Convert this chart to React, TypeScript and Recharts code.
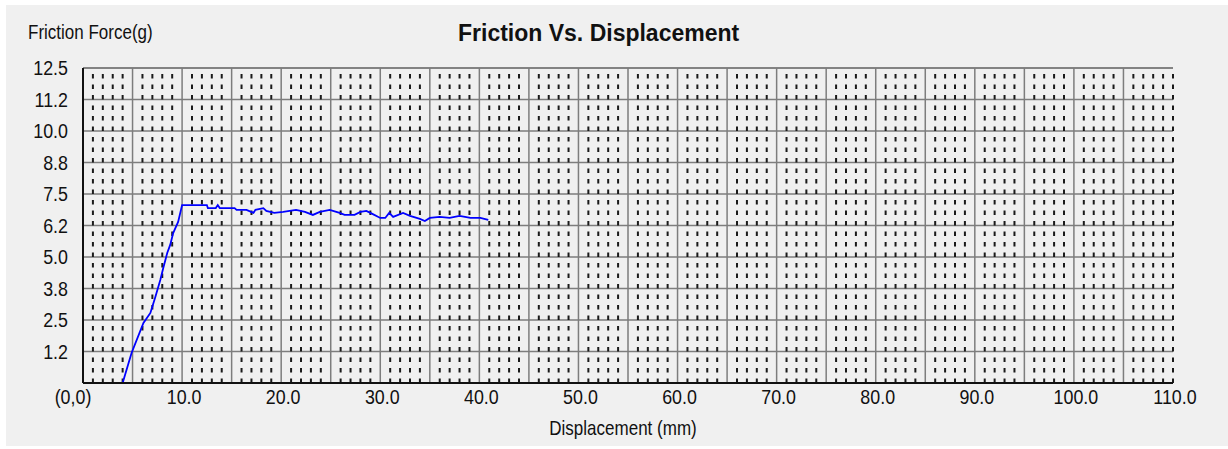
import { LineChart, Line, XAxis, YAxis, CartesianGrid, ReferenceLine } from 'recharts';

// values (mm, g)
const displacement = [
  4.0, 4.9, 6.1, 6.8, 7.3, 7.8, 8.1, 8.5, 8.8, 9.1, 9.6, 10.0, 12.5, 12.6, 13.4, 13.6, 13.8,
  15.3, 15.5, 16.5, 17.2, 17.4, 18.2, 18.5, 19.3, 20.2, 21.5, 22.4, 23.2, 23.9, 24.9, 25.9,
  26.4, 27.4, 28.0, 28.6, 29.2, 30.0, 30.5, 30.9, 31.3, 32.3, 33.0, 34.0, 34.5, 35.0, 36.0,
  37.0, 38.0, 39.1, 40.1, 40.9,
];
const frictionForce = [
  0, 1.19, 2.38, 2.78, 3.41, 4.09, 4.56, 5.16, 5.48, 5.95, 6.39, 7.06, 7.06, 6.94, 6.94, 7.06, 6.94,
  6.94, 6.87, 6.87, 6.75, 6.87, 6.94, 6.83, 6.75, 6.79, 6.87, 6.79, 6.67, 6.79, 6.87, 6.75,
  6.67, 6.67, 6.79, 6.83, 6.71, 6.55, 6.55, 6.75, 6.59, 6.75, 6.63, 6.51, 6.43, 6.55, 6.59,
  6.55, 6.63, 6.55, 6.55, 6.47,
];

const xTicks = [0, 10, 20, 30, 40, 50, 60, 70, 80, 90, 100, 110];
const xTickLabels = ['(0,0)', '10.0', '20.0', '30.0', '40.0', '50.0', '60.0', '70.0', '80.0', '90.0', '100.0', '110.0'];
const yTicks = [0, 1.25, 2.5, 3.75, 5, 6.25, 7.5, 8.75, 10, 11.25, 12.5];
const yTickLabels = ['', '1.2', '2.5', '3.8', '5.0', '6.2', '7.5', '8.8', '10.0', '11.2', '12.5'];

// grid columns every 1 mm; every 5 mm is a solid line
const gridColumns = Array.from({ length: 110 }, (_, i) => i + 1);

const data = displacement.map((d, i) => ({ d, f: frictionForce[i] }));

const FONT = '"Liberation Sans", Arial, sans-serif';
const NARROW = 0.85; // squeeze to mimic the condensed face

function XTick(props: any) {
  const { x, y, payload } = props;
  const idx = xTicks.indexOf(payload.value);
  const tx = x + (payload.value === 0 ? -10 : 2);
  return (
    <text transform={`translate(${tx},${y}) scale(${NARROW},1)`} x={0} y={0} dy="0.71em" textAnchor="middle"
      fontFamily={FONT} fontSize={21} fill="#111">
      {xTickLabels[idx]}
    </text>
  );
}

function YTick(props: any) {
  const { x, y, payload } = props;
  const idx = yTicks.indexOf(payload.value);
  return (
    <text transform={`translate(${x},${y}) scale(${NARROW},1)`} x={0} y={0} dy="0.355em" textAnchor="end"
      fontFamily={FONT} fontSize={21} fill="#111">
      {yTickLabels[idx]}
    </text>
  );
}

export default function App() {
  return (
    <div style={{ position: 'absolute', left: 0, top: 0, width: 1228, height: 449, background: '#fff' }}>
      <div style={{ position: 'absolute', left: 6, top: 5, width: 1222, height: 441, background: '#f0f0f0' }} />

      <div style={{ position: 'absolute', left: 28, top: 22, fontFamily: FONT, fontSize: 20, lineHeight: 1, color: '#111', whiteSpace: 'nowrap', transform: `scaleX(${NARROW})`, transformOrigin: 'left top' }}>
        Friction Force(g)
      </div>
      <div style={{ position: 'absolute', left: 458, top: 22, fontFamily: FONT, fontWeight: 'bold', fontSize: 23, lineHeight: 1, color: '#111', whiteSpace: 'nowrap' }}>
        Friction Vs. Displacement
      </div>
      <div style={{ position: 'absolute', left: 473, top: 417, width: 300, textAlign: 'center', fontFamily: FONT, fontSize: 21, lineHeight: 1, color: '#111', whiteSpace: 'nowrap', transform: 'scaleX(0.81)', transformOrigin: 'center top' }}>
        Displacement (mm)
      </div>

      <div style={{ position: 'absolute', left: 0, top: 0 }}>
        <LineChart width={1228} height={449} data={data} margin={{ top: 68, right: 55, bottom: 65, left: 82 }}>
          <CartesianGrid horizontal vertical={false} stroke="#7d7d7d" strokeWidth={1.5} />
          {gridColumns.map((v) => {
            const solid = v % 5 === 0 && v !== 110;
            return (
              <ReferenceLine
                key={v}
                x={v}
                stroke={solid ? '#7d7d7d' : '#1a1a1a'}
                strokeWidth={solid ? 1.5 : 2}
                strokeDasharray={solid ? undefined : '4.5 6'}
              />
            );
          })}
          <ReferenceLine y={12.5} stroke="#7d7d7d" strokeWidth={1.5} />
          <XAxis
            dataKey="d"
            type="number"
            domain={[0, 110]}
            ticks={xTicks}
            height={1}
            tickSize={0}
            tickMargin={6}
            tickLine={false}
            axisLine={{ stroke: '#111', strokeWidth: 2 }}
            tick={<XTick />}
            interval={0}
            allowDataOverflow
          />
          <YAxis
            type="number"
            domain={[0, 12.5]}
            ticks={yTicks}
            width={1}
            tickSize={0}
            tickMargin={15}
            tickLine={false}
            axisLine={{ stroke: '#111', strokeWidth: 2 }}
            tick={<YTick />}
            interval={0}
            allowDataOverflow
          />
          <Line
            type="linear"
            dataKey="f"
            stroke="#0000ff"
            strokeWidth={1.8}
            dot={false}
            isAnimationActive={false}
          />
        </LineChart>
      </div>
    </div>
  );
}
